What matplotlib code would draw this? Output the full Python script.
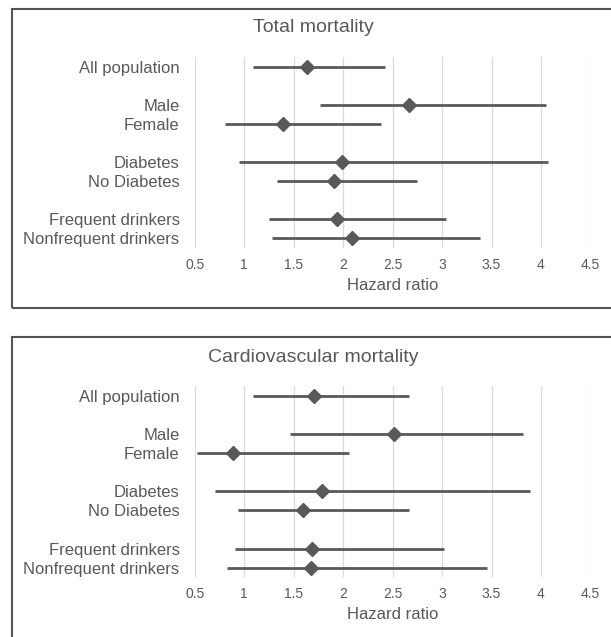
import numpy as np
import matplotlib
matplotlib.use("Agg")
import matplotlib.pyplot as plt
from matplotlib.patches import Rectangle

plt.rcParams['font.family'] = ['Liberation Sans', 'DejaVu Sans']

# subgroup labels, top to bottom; blank rows separate the groups
groups = ["All population", "Male", "Female", "Diabetes", "No Diabetes",
          "Frequent drinkers", "Nonfrequent drinkers"]
rows = [0, 2, 3, 5, 6, 8, 9]

# hazard ratios with 95% CI
total_hr = [1.63, 2.67, 1.39, 1.99, 1.91, 1.94, 2.09]
total_lo = [1.09, 1.77, 0.81, 0.95, 1.33, 1.25, 1.28]
total_hi = [2.42, 4.05, 2.38, 4.07, 2.75, 3.04, 3.38]

cv_hr = [1.71, 2.51, 0.89, 1.79, 1.59, 1.68, 1.67]
cv_lo = [1.09, 1.46, 0.52, 0.70, 0.94, 0.91, 0.83]
cv_hi = [2.67, 3.82, 2.06, 3.89, 2.67, 3.02, 3.45]

xticks = [0.5, 1, 1.5, 2, 2.5, 3, 3.5, 4, 4.5]
xtick_labels = ["0.5", "1", "1.5", "2", "2.5", "3", "3.5", "4", "4.5"]

W, H = 611, 637
DARK = "#595959"
GRID = "#d9d9d9"
FRAME = "#555555"

fig = plt.figure(figsize=(W / 100, H / 100), dpi=100)


def forest(ax, hr, lo, hi):
    for x in xticks:
        ax.axvline(x, color=GRID, lw=0.9, zorder=0)
    ax.hlines(rows, lo, hi, color=DARK, lw=2.0, zorder=2)
    ax.plot(hr, rows, "D", color=DARK, ms=6.8, zorder=3)
    ax.set_xlim(0.5, 4.5)
    ax.set_ylim(9.5, -0.5)
    ax.set_yticks(rows)
    ax.set_yticklabels(groups, fontsize=12, color=DARK)
    ax.set_xticks(xticks)
    ax.set_xticklabels(xtick_labels, fontsize=10, color=DARK)
    ax.tick_params(length=0)
    ax.tick_params(axis="y", pad=11)
    ax.tick_params(axis="x", pad=7)
    for s in ax.spines.values():
        s.set_visible(False)
    ax.set_xlabel("Hazard ratio", fontsize=12, color=DARK)
    ax.xaxis.set_label_coords(0.5, -37 / 191)
    ax.xaxis.label.set_va("center")


ax_left = 194.8 / W
ax_w = (590.4 - 194.8) / W
ax_h = 191 / H

ax1 = fig.add_axes([ax_left, 1 - 248 / H, ax_w, ax_h])
forest(ax1, total_hr, total_lo, total_hi)
ax2 = fig.add_axes([ax_left, 1 - 577.3 / H, ax_w, ax_h])
forest(ax2, cv_hr, cv_lo, cv_hi)

fig.text(313.5 / W, 1 - 28 / H, "Total mortality", fontsize=14,
         color=DARK, ha="center", va="center")
fig.text(313.5 / W, 1 - 357 / H, "Cardiovascular mortality", fontsize=14,
         color=DARK, ha="center", va="center")

# chart area borders, both run past the right edge
fig.patches.append(Rectangle((12.3 / W, 1 - 308.3 / H), 1.0, (308.3 - 9.3) / H,
                             transform=fig.transFigure, fill=False,
                             ec=FRAME, lw=1.5))
fig.patches.append(Rectangle((12.3 / W, -0.1), 1.0, 0.1 + 1 - 336.7 / H,
                             transform=fig.transFigure, fill=False,
                             ec=FRAME, lw=1.5))

fig.savefig("out.png", dpi=100)
